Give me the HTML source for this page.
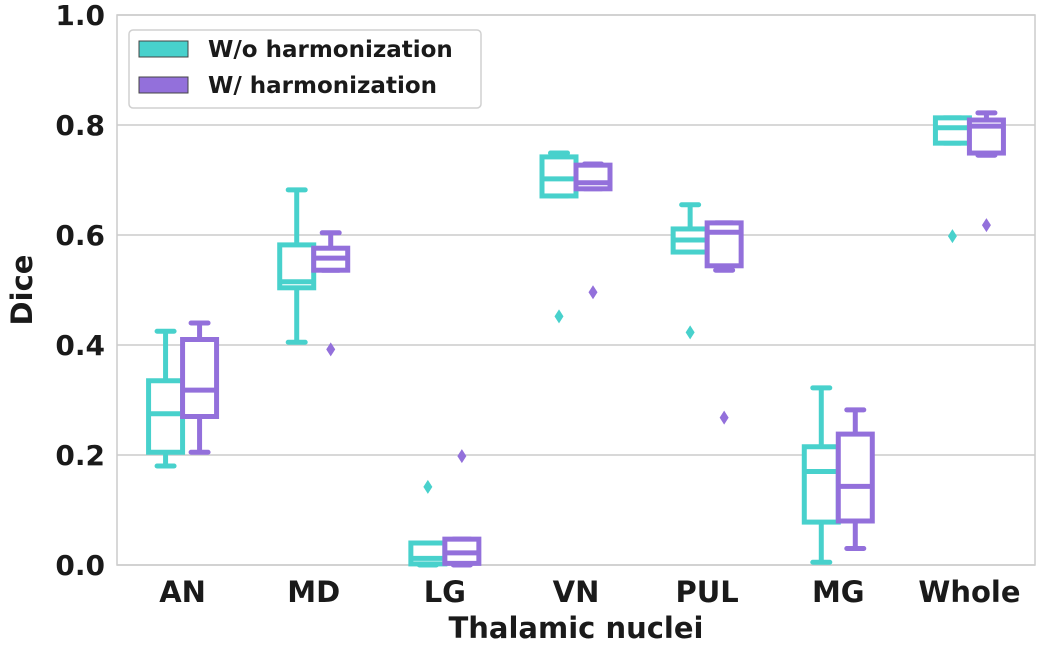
<!DOCTYPE html>
<html><head><meta charset="utf-8"><style>
body{margin:0;background:#fff;}
svg text{font-family:"DejaVu Sans","Liberation Sans",sans-serif;font-weight:bold;fill:#1a1a1a;}
</style></head><body>
<svg id="chart" width="1050" height="645" xmlns="http://www.w3.org/2000/svg"></svg>
<script>
const categories=["AN","MD","LG","VN","PUL","MG","Whole"];
const seriesNames=["W/o harmonization","W/ harmonization"];
const colors=["#48d1cc","#9370db"];
// [whiskerLow, q1, median, q3, whiskerHigh]
const statsNoHarm=[[0.18,0.205,0.275,0.335,0.425],[0.405,0.504,0.515,0.582,0.682],[0,0.002,0.012,0.04,0.04],[0.671,0.671,0.702,0.742,0.749],[0.569,0.569,0.591,0.611,0.655],[0.005,0.078,0.17,0.215,0.322],[0.767,0.767,0.795,0.813,0.813]];
const statsHarm=[[0.205,0.27,0.318,0.41,0.44],[0.536,0.536,0.558,0.576,0.604],[0,0.003,0.022,0.047,0.047],[0.684,0.684,0.695,0.727,0.729],[0.536,0.544,0.605,0.622,0.622],[0.03,0.08,0.143,0.238,0.282],[0.745,0.749,0.798,0.809,0.822]];
const outliersNoHarm=[[],[],[0.142],[0.452],[0.423],[],[0.598]];
const outliersHarm=[[],[0.392],[0.198],[0.496],[0.268],[],[0.618]];
const yTicks=[0,0.2,0.4,0.6,0.8,1.0];
const tickLabels=["0.0","0.2","0.4","0.6","0.8","1.0"];

const svg=document.getElementById('chart');
const NS="http://www.w3.org/2000/svg";
const L=117,R=1035,T=15,B=565;
const y=v=>B-(v)*(B-T);
const step=(R-L)/categories.length;
const xc=i=>L+step*(i+0.5);
function mk(tag,attrs,parent){const e=document.createElementNS(NS,tag);for(const k in attrs)e.setAttribute(k,attrs[k]);(parent||svg).appendChild(e);return e;}

yTicks.forEach((t,i)=>{
  const g=mk('line',{x1:L,x2:R,y1:y(t),y2:y(t),stroke:'#cccccc','stroke-width':1.5});
  
  
  const tx=mk('text',{x:L-12,y:y(t)+10,'text-anchor':'end','font-size':28});
  tx.textContent=tickLabels[i];
  
  
});
const frame=mk('rect',{x:L,y:T,width:R-L,height:B-T,fill:'none',stroke:'#cccccc','stroke-width':1.5});



const bw=34;
function drawBox(s,col,cx,name){
  const g=mk('g',{});
  
  
  const sw=5;
  mk('line',{x1:cx,x2:cx,y1:y(s[0]),y2:y(s[1]),stroke:col,'stroke-width':sw},g);
  mk('line',{x1:cx,x2:cx,y1:y(s[3]),y2:y(s[4]),stroke:col,'stroke-width':sw},g);
  mk('line',{x1:cx-bw/4,x2:cx+bw/4,y1:y(s[0]),y2:y(s[0]),stroke:col,'stroke-width':sw,'stroke-linecap':'round'},g);
  mk('line',{x1:cx-bw/4,x2:cx+bw/4,y1:y(s[4]),y2:y(s[4]),stroke:col,'stroke-width':sw,'stroke-linecap':'round'},g);
  mk('rect',{x:cx-bw/2,y:y(s[3]),width:bw,height:Math.max(0.5,y(s[1])-y(s[3])),fill:'#fff',stroke:col,'stroke-width':sw},g);
  mk('line',{x1:cx-bw/2,x2:cx+bw/2,y1:y(s[2]),y2:y(s[2]),stroke:col,'stroke-width':sw},g);
}
function drawOut(v,col,cx){
  const p=mk('path',{d:`M${cx},${y(v)-7}L${cx+4.5},${y(v)}L${cx},${y(v)+7}L${cx-4.5},${y(v)}Z`,fill:col});
  
  
}
categories.forEach((c,i)=>{
  drawBox(statsNoHarm[i],colors[0],xc(i)-bw/2,'box-'+c.toLowerCase()+'-no-harm');
  drawBox(statsHarm[i],colors[1],xc(i)+bw/2,'box-'+c.toLowerCase()+'-harm');
  outliersNoHarm[i].forEach(v=>drawOut(v,colors[0],xc(i)-bw/2));
  outliersHarm[i].forEach(v=>drawOut(v,colors[1],xc(i)+bw/2));
  const t=mk('text',{x:xc(i),y:602,'text-anchor':'middle','font-size':29});
  t.textContent=c;
  
  
});
const xl=mk('text',{x:576,y:638,'text-anchor':'middle','font-size':29});
xl.textContent='Thalamic nuclei';


const yl=mk('text',{x:32,y:290,'text-anchor':'middle','font-size':29,transform:'rotate(-90 32 290)'});
yl.textContent='Dice';



const lg=mk('g',{});


mk('rect',{x:129,y:30,width:352,height:78,rx:4,fill:'#fff',stroke:'#d0d0d0','stroke-width':1.5},lg);
seriesNames.forEach((n,i)=>{
  const yy=49+i*36;
  const sq=mk('rect',{x:139,y:yy-8,width:49,height:16,fill:colors[i],stroke:'#444','stroke-width':1},lg);
  
  
  const t=mk('text',{x:208,y:yy+8,'font-size':23},lg);
  t.textContent=n;
  
  
});
</script>
</body></html>
